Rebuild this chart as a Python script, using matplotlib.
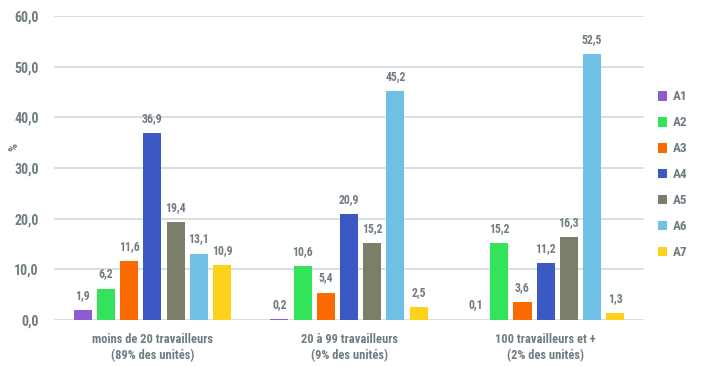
import matplotlib
matplotlib.use("Agg")
import matplotlib.pyplot as plt
import numpy as np

categories = ["moins de 20 travailleurs\n(89% des unités)",
              "20 à 99 travailleurs\n(9% des unités)",
              "100 travailleurs et +\n(2% des unités)"]
series = ["A1", "A2", "A3", "A4", "A5", "A6", "A7"]
values = [
    [1.9, 0.2, 0.1],
    [6.2, 10.6, 15.2],
    [11.6, 5.4, 3.6],
    [36.9, 20.9, 11.2],
    [19.4, 15.2, 16.3],
    [13.1, 45.2, 52.5],
    [10.9, 2.5, 1.3],
]
colors = ["#8e5bd2", "#33e35a", "#fa6a00", "#3b58c4", "#7b7f69", "#70bfe4", "#fdd21a"]
yticks = [0, 10, 20, 30, 40, 50, 60]

TXT = "#6f7c82"
plt.rcParams["font.family"] = ["Roboto Condensed", "DejaVu Sans"]
plt.rcParams["font.weight"] = "bold"

fig = plt.figure(figsize=(7.08, 3.67), dpi=100)
ax = fig.add_axes([0.0763, 0.128, 0.9096 - 0.0763, 0.956 - 0.128])

x = np.arange(len(categories))
pitch = 0.118
w = 0.092
for i, (name, vals, c) in enumerate(zip(series, values, colors)):
    pos = x + (i - 3) * pitch
    ax.bar(pos, vals, width=w, color=c, label=name, zorder=3)
    for p, v in zip(pos, vals):
        ax.text(p, v + 1.6, f"{v:.1f}".replace(".", ","), ha="center", va="bottom",
                fontsize=8.5, color=TXT, fontweight="bold")

ax.set_xlim(-0.5, 2.5)
ax.set_ylim(0, 60)
ax.set_yticks(yticks)
ax.set_yticklabels([f"{t:.1f}".replace(".", ",") for t in yticks], fontsize=10, color=TXT)
ax.set_xticks(x)
ax.set_xticklabels(categories, fontsize=9, color=TXT, linespacing=1.35)
ax.tick_params(axis="x", length=0, pad=9)
ax.tick_params(axis="y", length=0, pad=11)
ax.grid(axis="y", color="#d9dfdf", linewidth=1.4, zorder=0)
for s in ax.spines.values():
    s.set_visible(False)
fig.text(14 / 708, 1 - 147 / 367, "%", rotation=90, ha="center", va="center",
         fontsize=9, color=TXT)

leg = fig.legend(loc="upper left", bbox_to_anchor=(0.912, 0.786), frameon=False,
                 handlelength=0.75, handleheight=0.75, handletextpad=0.4,
                 labelspacing=0.98, fontsize=9.5)
for t in leg.get_texts():
    t.set_color(TXT)

fig.savefig("out.png", dpi=100)
